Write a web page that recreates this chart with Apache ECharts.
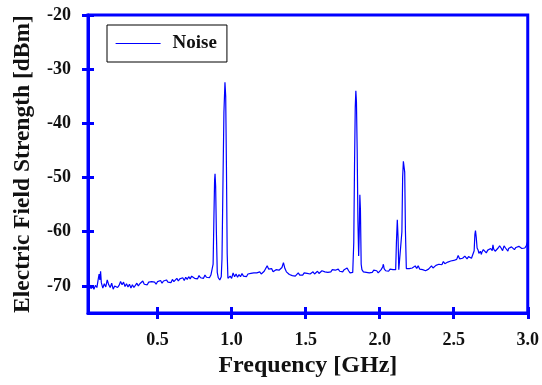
<!DOCTYPE html>
<html>
<head>
<meta charset="utf-8">
<script src="https://cdn.jsdelivr.net/npm/echarts@6/dist/echarts.min.js"></script>
<style>
  html, body { margin: 0; padding: 0; background: #fff; }
  #chart { width: 542px; height: 385px; }
</style>
</head>
<body>
<div id="chart"></div>
<script>
// noise spectrum (GHz / dBm)
const freqGHz = [
  0.03, 0.04, 0.05, 0.06, 0.07, 0.08, 0.09, 0.10, 0.105, 0.11, 0.115, 0.12, 0.13, 0.14, 0.15, 0.16, 0.17, 0.18, 0.19, 0.20,
  0.21, 0.22, 0.23, 0.24, 0.25, 0.26, 0.27, 0.28, 0.29, 0.30, 0.31, 0.32, 0.33, 0.34, 0.35, 0.36, 0.37, 0.38, 0.39, 0.40,
  0.41, 0.42, 0.43, 0.44, 0.45, 0.46, 0.47, 0.48, 0.49, 0.50, 0.51, 0.52, 0.53, 0.54, 0.55, 0.56, 0.57, 0.58, 0.59, 0.60,
  0.61, 0.62, 0.63, 0.64, 0.65, 0.66, 0.67, 0.68, 0.69, 0.70, 0.71, 0.72, 0.73, 0.74, 0.75, 0.76, 0.77, 0.78, 0.79, 0.80,
  0.81, 0.82, 0.83, 0.84, 0.85, 0.86, 0.87, 0.875, 0.88, 0.885, 0.888, 0.892, 0.897, 0.903, 0.91, 0.92, 0.93, 0.935, 0.942, 0.948,
  0.955, 0.96, 0.965, 0.97, 0.975, 0.98, 0.99, 1.00, 1.01, 1.02, 1.03, 1.04, 1.05, 1.06, 1.07, 1.08, 1.09, 1.10, 1.11, 1.12,
  1.13, 1.14, 1.15, 1.16, 1.17, 1.18, 1.19, 1.20, 1.21, 1.22, 1.23, 1.24, 1.25, 1.26, 1.27, 1.28, 1.29, 1.30, 1.31, 1.32,
  1.33, 1.34, 1.35, 1.36, 1.37, 1.38, 1.39, 1.40, 1.41, 1.42, 1.43, 1.44, 1.45, 1.46, 1.47, 1.48, 1.49, 1.50, 1.51, 1.52,
  1.53, 1.54, 1.55, 1.56, 1.57, 1.58, 1.59, 1.60, 1.61, 1.62, 1.63, 1.64, 1.65, 1.66, 1.67, 1.68, 1.69, 1.70, 1.71, 1.72,
  1.73, 1.74, 1.75, 1.76, 1.77, 1.78, 1.79, 1.80, 1.81, 1.818, 1.825, 1.83, 1.835, 1.839, 1.843, 1.848, 1.853, 1.858, 1.862, 1.866,
  1.87, 1.875, 1.88, 1.89, 1.90, 1.91, 1.92, 1.93, 1.94, 1.95, 1.96, 1.97, 1.98, 1.99, 2.00, 2.01, 2.02, 2.025, 2.03, 2.04,
  2.05, 2.06, 2.07, 2.08, 2.09, 2.10, 2.108, 2.113, 2.119, 2.124, 2.129, 2.135, 2.142, 2.15, 2.155, 2.16, 2.164, 2.169, 2.174, 2.18,
  2.19, 2.20, 2.21, 2.22, 2.23, 2.24, 2.25, 2.26, 2.27, 2.28, 2.29, 2.30, 2.31, 2.32, 2.33, 2.34, 2.35, 2.36, 2.37, 2.38,
  2.39, 2.40, 2.41, 2.42, 2.43, 2.44, 2.45, 2.46, 2.47, 2.48, 2.49, 2.50, 2.51, 2.52, 2.53, 2.535, 2.54, 2.55, 2.56, 2.57,
  2.575, 2.58, 2.59, 2.60, 2.61, 2.62, 2.63, 2.638, 2.643, 2.647, 2.652, 2.658, 2.665, 2.67, 2.68, 2.687, 2.69, 2.70, 2.71, 2.72,
  2.73, 2.74, 2.75, 2.76, 2.765, 2.77, 2.78, 2.788, 2.80, 2.81, 2.815, 2.82, 2.83, 2.84, 2.845, 2.85, 2.86, 2.866, 2.87, 2.88,
  2.89, 2.90, 2.91, 2.92, 2.93, 2.94, 2.95, 2.96, 2.97, 2.98, 2.99, 3.00
];
const fieldDbm = [
  -70.2, -69.8, -70.5, -70.1, -70.6, -69.9, -70.3, -68.6, -67.8, -68.9, -67.3, -69.4, -70.4, -69.6, -70.2, -68.9, -69.8, -70.3, -69.5, -70.6,
  -70.0, -69.8, -70.3, -69.9, -69.2, -69.8, -69.3, -70.1, -69.6, -70.2, -69.7, -70.4, -69.8, -70.3, -69.9, -69.5, -70.0, -69.6, -69.9, -69.1,
  -69.7, -69.4, -69.8, -69.3, -69.6, -69.2, -69.5, -69.3, -69.7, -69.2, -69.4, -69.0, -69.5, -69.1, -69.4, -68.9, -69.3, -69.0, -69.4, -68.8,
  -69.2, -68.9, -68.6, -69.1, -68.7, -68.8, -68.5, -69.0, -68.4, -68.8, -68.3, -68.7, -68.2, -68.0, -68.6, -68.3, -68.7, -68.1, -68.5, -68.2,
  -68.6, -68.0, -68.4, -68.1, -68.5, -68.0, -68.2, -66.0, -58.0, -50.5, -49.3, -51.5, -60.0, -67.5, -68.5, -68.9, -68.3, -65.0, -50.0, -38.0,
  -32.4, -35.0, -48.0, -64.0, -68.6, -68.9, -68.2, -68.6, -67.6, -68.3, -67.8, -68.4, -67.9, -68.3, -67.7, -68.2, -67.9, -68.3, -67.8, -68.1,
  -67.7, -68.0, -67.6, -67.9, -67.6, -67.9, -67.4, -67.8, -67.5, -67.3, -66.8, -66.3, -66.9, -67.1, -66.8, -67.4, -67.2, -67.0, -67.3, -67.1,
  -67.4, -66.6, -65.7, -66.8, -67.4, -67.7, -67.9, -67.6, -68.1, -67.8, -68.2, -67.9, -67.6, -68.0, -67.7, -68.0, -67.6, -67.9, -67.7, -67.4,
  -67.8, -67.5, -67.4, -67.8, -67.5, -67.3, -67.7, -67.5, -67.2, -66.9, -67.4, -67.1, -67.5, -67.2, -67.4, -67.0, -67.3, -67.1, -67.2, -66.9,
  -67.3, -67.0, -67.4, -67.0, -66.8, -66.7, -67.2, -67.6, -67.4, -67.5, -62.0, -48.0, -37.0, -34.0, -36.0, -45.0, -58.0, -64.5, -60.0, -53.2,
  -56.0, -66.0, -67.0, -67.4, -67.1, -67.5, -67.2, -67.6, -67.3, -67.5, -67.1, -67.4, -67.2, -67.6, -67.3, -67.0, -66.5, -66.0, -66.8, -67.2,
  -67.0, -67.3, -66.9, -67.2, -67.0, -67.3, -67.0, -62.0, -57.8, -61.0, -67.0, -67.3, -66.8, -60.0, -50.0, -47.0, -46.8, -49.0, -60.0, -66.8,
  -67.0, -66.8, -67.1, -66.7, -67.0, -66.3, -66.8, -66.3, -66.9, -66.7, -67.0, -66.8, -67.2, -67.4, -66.9, -66.6, -66.3, -66.7, -66.4, -66.2,
  -66.4, -66.0, -65.8, -66.1, -65.5, -65.9, -65.7, -65.6, -65.9, -65.4, -65.6, -65.3, -65.5, -65.1, -64.4, -64.2, -65.0, -65.3, -64.9, -64.6,
  -64.5, -64.8, -65.0, -64.6, -64.7, -64.9, -64.9, -63.5, -60.5, -59.8, -61.0, -63.0, -63.4, -64.0, -63.6, -64.2, -63.8, -63.3, -63.5, -63.9,
  -63.4, -63.7, -63.1, -63.5, -62.4, -63.2, -63.6, -63.7, -63.0, -62.6, -62.3, -63.0, -63.5, -62.6, -62.4, -63.0, -63.3, -63.6, -63.1, -62.9,
  -62.8, -63.1, -63.3, -62.9, -63.0, -62.7, -62.8, -63.1, -62.9, -63.0, -62.6, -61.8
];
const xTicks = [0.5, 1.0, 1.5, 2.0, 2.5, 3.0];
const yTicks = [-70, -60, -50, -40, -30, -20];

const BLUE = '#0000ff';
const FONT = 'Liberation Serif';

const chart = echarts.init(document.getElementById('chart'), null, { renderer: 'canvas' });

const tickFont = { color: '#111', fontFamily: FONT, fontWeight: 'bold', fontSize: 18 };

// main axes carry labels + outward ticks, twin axes add the inward half of each tick
const xBase = { type: 'value', min: 0.03, max: 3.0, splitLine: { show: false } };
const yBase = { type: 'value', min: -75, max: -20, splitLine: { show: false } };

chart.setOption({
  animation: false,
  backgroundColor: '#fff',
  grid: {
    left: 88, right: 14, top: 15, bottom: 72,
    show: true, borderColor: BLUE, borderWidth: 3,
  },
  legend: {
    left: 107, top: 25,
    padding: [9, 10, 9, 8],
    borderColor: '#000', borderWidth: 1,
    itemWidth: 45, itemHeight: 14,
    lineStyle: { color: BLUE, width: 1.2 },
    itemStyle: { opacity: 0 },
    data: ['Noise'],
    textStyle: { color: '#111', fontFamily: FONT, fontWeight: 'bold', fontSize: 19, padding: [0, 0, 0, 7] },
  },
  xAxis: [
    {
      ...xBase,
      name: 'Frequency [GHz]',
      nameLocation: 'middle',
      nameGap: 40,
      nameTextStyle: { color: '#111', fontFamily: FONT, fontWeight: 'bold', fontSize: 24 },
      axisLine: { lineStyle: { color: BLUE, width: 3 } },
      axisTick: { customValues: xTicks, length: 6, lineStyle: { color: BLUE, width: 3 } },
      axisLabel: { ...tickFont, margin: 18, customValues: xTicks, formatter: (v) => v.toFixed(1) },
    },
    {
      ...xBase,
      position: 'bottom',
      axisLine: { show: false },
      axisTick: { customValues: xTicks, inside: true, length: 6, lineStyle: { color: BLUE, width: 3 } },
      axisLabel: { show: false },
    },
  ],
  yAxis: [
    {
      ...yBase,
      name: 'Electric Field Strength [dBm]',
      nameLocation: 'middle',
      nameGap: 53,
      nameTextStyle: { color: '#111', fontFamily: FONT, fontWeight: 'bold', fontSize: 23.5 },
      axisLine: { lineStyle: { color: BLUE, width: 3 } },
      axisTick: { customValues: yTicks, length: 6, lineStyle: { color: BLUE, width: 3 } },
      axisLabel: { ...tickFont, margin: 17, customValues: yTicks },
    },
    {
      ...yBase,
      position: 'left',
      axisLine: { show: false },
      axisTick: { customValues: yTicks, inside: true, length: 6, lineStyle: { color: BLUE, width: 3 } },
      axisLabel: { show: false },
    },
  ],
  series: [
    {
      name: 'Noise',
      type: 'line',
      xAxisIndex: 0,
      yAxisIndex: 0,
      symbol: 'none',
      itemStyle: { color: BLUE },
      lineStyle: { color: BLUE, width: 1.2 },
      data: freqGHz.map((f, i) => [f, fieldDbm[i]]),
    },
  ],
});
</script>
</body>
</html>
